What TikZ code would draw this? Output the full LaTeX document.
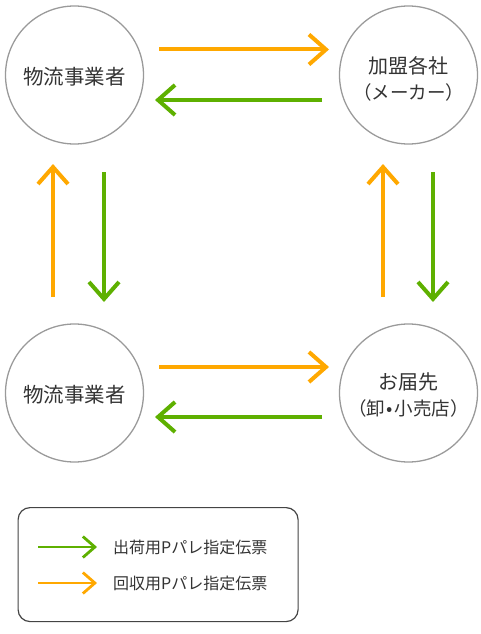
\documentclass[tikz,border=0pt]{standalone}
\usepackage{fontspec}
\setmainfont{Noto Sans CJK JP}
\usetikzlibrary{arrows.meta}
\definecolor{org}{RGB}{255,168,0}
\definecolor{grn}{RGB}{94,176,0}
\definecolor{txt}{HTML}{333333}
\definecolor{ring}{HTML}{9A9A9A}
\definecolor{frame}{HTML}{444444}
\newcommand{\bigline}{\fontsize{20}{20}\selectfont}
\newcommand{\smallline}{\fontsize{18.5}{18.5}\selectfont}
\begin{document}
\begin{tikzpicture}[x=1pt,y=-1pt,
  party/.style={circle, draw=ring, line width=1.3pt, minimum size=138pt, inner sep=0pt},
  partytext/.style={text=txt, align=center, inner sep=0pt},
  flow/.style={line width=4pt, -{Straight Barb[length=17pt,width=30pt]}},
  keyflow/.style={line width=2.8pt, -{Straight Barb[length=12pt,width=21pt]}},
  keytext/.style={anchor=west, inner sep=0pt, text=txt, font=\fontsize{16}{18}\selectfont},
  legendbox/.style={draw=frame, line width=1.2pt, rounded corners=12pt}
]
\useasboundingbox (0,0) rectangle (480,634);

\node[party, label={[partytext, yshift=-1.5pt, font=\fontsize{20.5}{20.5}\selectfont]center:物流事業者}] (LT) at (74.5,75) {};
\node[party, label={[partytext, yshift=-4pt]center:{\bigline 加盟各社}\\[8pt]{\smallline （メーカー）}}] (RT) at (408.5,75) {};
\node[party, label={[partytext, yshift=-2pt, font=\fontsize{20.5}{20.5}\selectfont]center:物流事業者}] (LB) at (74.5,393) {};
\node[party, label={[partytext, yshift=-2pt]center:{\bigline お届先}\\[7pt]{\smallline （卸\kern1.5pt•\kern1.5pt 小売店）}}] (RB) at (408.5,393) {};

% horizontal flows, top
\draw[flow, org] ([xshift=84.5pt,yshift=25.5pt]LT.center) -- ([xshift=-79.5pt,yshift=25.5pt]RT.center);
\draw[flow, grn] ([xshift=-86.5pt,yshift=-25pt]RT.center) -- ([xshift=80.5pt,yshift=-25pt]LT.center);
% horizontal flows, bottom
\draw[flow, org] ([xshift=84.5pt,yshift=26pt]LB.center) -- ([xshift=-79.5pt,yshift=26pt]RB.center);
\draw[flow, grn] ([xshift=-86.5pt,yshift=-24pt]RB.center) -- ([xshift=80.5pt,yshift=-24pt]LB.center);
% vertical flows, left
\draw[flow, org] ([xshift=-21.5pt,yshift=96pt]LB.center) -- ([xshift=-21.5pt,yshift=-89pt]LT.center);
\draw[flow, grn] ([xshift=29.5pt,yshift=-97pt]LT.center) -- ([xshift=29.5pt,yshift=91pt]LB.center);
% vertical flows, right
\draw[flow, org] ([xshift=-25.5pt,yshift=96pt]RB.center) -- ([xshift=-25.5pt,yshift=-89pt]RT.center);
\draw[flow, grn] ([xshift=24.5pt,yshift=-97pt]RT.center) -- ([xshift=24.5pt,yshift=91pt]RB.center);

% legend
\node[legendbox, minimum width=280pt, minimum height=114pt, anchor=north west] (key) at (17.5,507) {};
\coordinate (k1s) at (38,547);
\coordinate (k1e) at (97,547);
\coordinate (k2s) at (38,583);
\coordinate (k2e) at (97,583);
\draw[keyflow, grn] (k1s) -- (k1e);
\draw[keyflow, org] (k2s) -- (k2e);
\node[keytext] (t1) at (113,547) {出荷用Pパレ指定伝票};
\node[keytext] (t2) at (113,583) {回収用Pパレ指定伝票};
\end{tikzpicture}
\end{document}
